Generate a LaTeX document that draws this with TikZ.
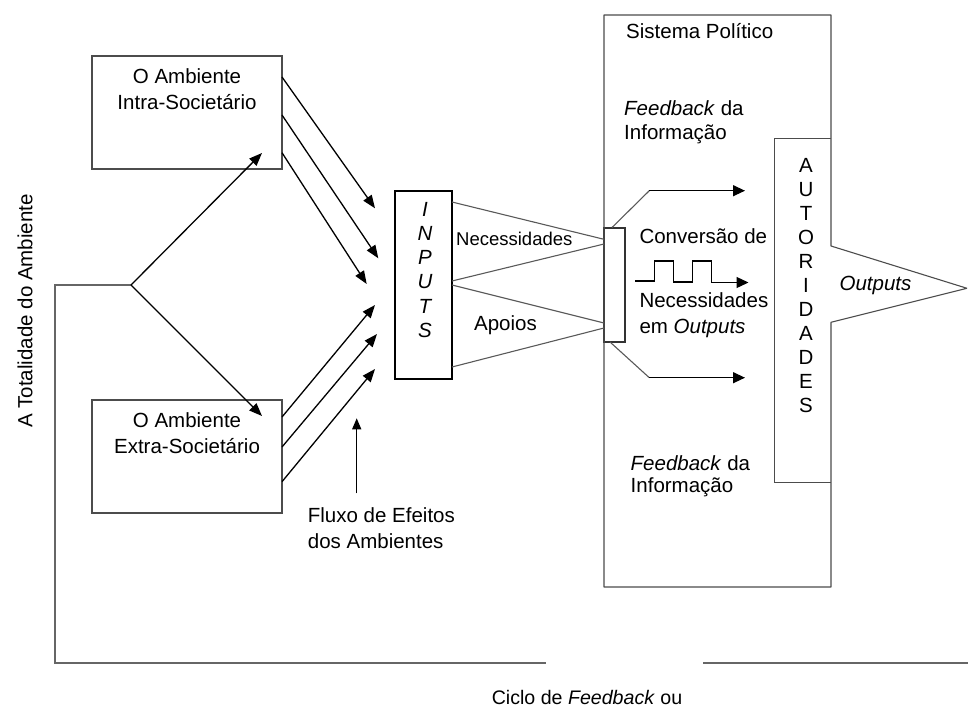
\documentclass[tikz,border=0pt]{standalone}
\usepackage{fontspec}
\setmainfont{Liberation Sans}
\usetikzlibrary{arrows.meta}
\begin{document}
\begin{tikzpicture}[x=1pt,y=-1pt,
  frame/.style={draw=black!70, line width=1.1pt},
  boxnode/.style={frame, inner sep=0pt, outer sep=0pt},
  flow/.style={draw=black, line width=1.3pt, -{Triangle[length=13pt,width=10pt]}},
  greyline/.style={draw=black!65, line width=1.1pt},
  loopline/.style={draw=black!60, line width=1.4pt},
  txt/.style={inner sep=0pt, font=\fontsize{20.5}{26}\selectfont},
  smalltxt/.style={inner sep=0pt, font=\fontsize{18.5}{22}\selectfont},
  letter/.style={inner sep=0pt, anchor=base, font=\fontsize{20.5}{24}\selectfont},
]
\useasboundingbox (0,0) rectangle (968,709);

% boxes
\node[boxnode, minimum width=190pt, minimum height=113pt] (intra) at (187,112.5) {};
\node[boxnode, minimum width=190pt, minimum height=113pt] (extra) at (187,456.5) {};
\node[boxnode, draw=black, minimum width=57pt, minimum height=188pt] (inputs) at (423.5,285) {};
\node[boxnode, draw=black!80, minimum width=21pt, minimum height=114pt] (conv) at (614.5,285) {};

% political system and authorities
\draw[frame, line join=bevel] (604,15) -- (831,15) -- (831,246) -- (967,288.3) -- (831,322.3) -- (831,587) -- (604,587) -- cycle;
\draw[frame] (831,138.3) -- (774.3,138.3) -- (774.3,482.7) -- (831,482.7);

% texts
\node[txt, align=center] (intratxt) at (187,88.8) {O Ambiente\\Intra-Societário};
\node[txt, align=center] (extratxt) at (187,433.3) {O Ambiente\\Extra-Societário};
\foreach \l [count=\i from 0] in {I,N,P,U,T,S}
  \node[letter, font=\fontsize{20.5}{24}\selectfont\itshape] (in\i) at (425,{216.3+24.2*\i}) {\l};
\foreach \l [count=\i from 0] in {A,U,T,O,R,I,D,A,D,E,S}
  \node[letter] (au\i) at (806,{172.3+24*\i}) {\l};
\node[smalltxt, anchor=base] (nectxt) at (514.3,245.9) {Necessidades};
\node[txt, anchor=base] (apoios) at (505.5,330.6) {Apoios};
\node[txt, anchor=base west] (sistema) at (626,38.3) {Sistema Político};
\node[txt, anchor=west, align=left, font=\fontsize{20.5}{24.3}\selectfont] (fb1) at (624,122.1) {\textit{Feedback} da\\Informação};
\node[txt, anchor=base west] (conversao) at (639.3,243) {Conversão de};
\node[txt, anchor=west, align=left, font=\fontsize{20.5}{26.7}\selectfont] (necout) at (639.3,315.3) {Necessidades\\em \textit{Outputs}};
\node[txt, anchor=west, align=left, font=\fontsize{20.5}{22.4}\selectfont] (fb2) at (630.5,476.5) {\textit{Feedback} da\\Informação};
\node[txt, anchor=base] (outputs) at (875.5,290.6) {\textit{Outputs}};
\node[txt, anchor=west, align=left, font=\fontsize{20.5}{26.7}\selectfont] (fluxo) at (307.7,528.2) {Fluxo de Efeitos\\dos Ambientes};
\node[txt, anchor=base, font=\fontsize{19.6}{24}\selectfont] (ciclo) at (587,704.5) {Ciclo de \textit{Feedback} ou};
\node[txt, rotate=90] (totalidade) at (25,311) {A Totalidade do Ambiente};

% coordinates
\coordinate (br) at (131,285);
\coordinate (loopA) at (55,285);
\coordinate (loopB) at (55,663);
\coordinate (loopC) at (546,663);
\coordinate (loopD) at (703,663);
\coordinate (loopE) at (968,663);

% feedback loop
\draw[loopline] (br) -- (loopA) -- (loopB) -- (loopC);
\draw[loopline] (loopD) -- (loopE);

% branch arrows
\draw[flow] (br) -- (262,153);
\draw[flow] (br) -- (262,416);

% intra arrows
\draw[flow] (intra.east |- 0,77) -- (375,208.3);
\draw[flow] (intra.east |- 0,115) -- (378.3,258.3);
\draw[flow] (intra.east |- 0,152.7) -- (366.7,284);
% extra arrows
\draw[flow] (extra.east |- 0,417) -- (375,305);
\draw[flow] (extra.east |- 0,447) -- (377,334);
\draw[flow] (extra.east |- 0,481.7) -- (375,369);
% fluxo arrow
\draw[flow, -{Triangle[length=11pt,width=9pt]}] (356.7,493.3) -- (356.7,418.3);

% inputs to conversion
\draw[greyline] (inputs.east |- 0,202) -- (conv.west |- 0,239.3);
\draw[greyline] (conv.west |- 0,244) -- (inputs.east |- 0,281);
\draw[greyline] (inputs.east |- 0,285) -- (conv.west |- 0,323);
\draw[greyline] (conv.west |- 0,328) -- (inputs.east |- 0,367);

% conversion outputs
\draw[greyline] (612,227.5) -- (649.3,190.7);
\draw[flow, -{Triangle[length=12pt,width=11pt]}] (649.3,190.7) -- (745,190.7);
\draw[greyline] (610,342) -- (649.3,377.7);
\draw[flow, -{Triangle[length=12pt,width=11pt]}] (649.3,377.7) -- (745,377.7);

% square wave
\draw[draw=black, line width=1.2pt, -{Triangle[length=12pt,width=11pt]}]
  (635,281) -- (654.5,281) -- (654.5,261) -- (673.5,261) -- (673.5,282) -- (692.5,282)
  -- (692.5,261) -- (711.7,261) -- (711.7,282.5) -- (748.5,282.5);
\end{tikzpicture}
\end{document}
